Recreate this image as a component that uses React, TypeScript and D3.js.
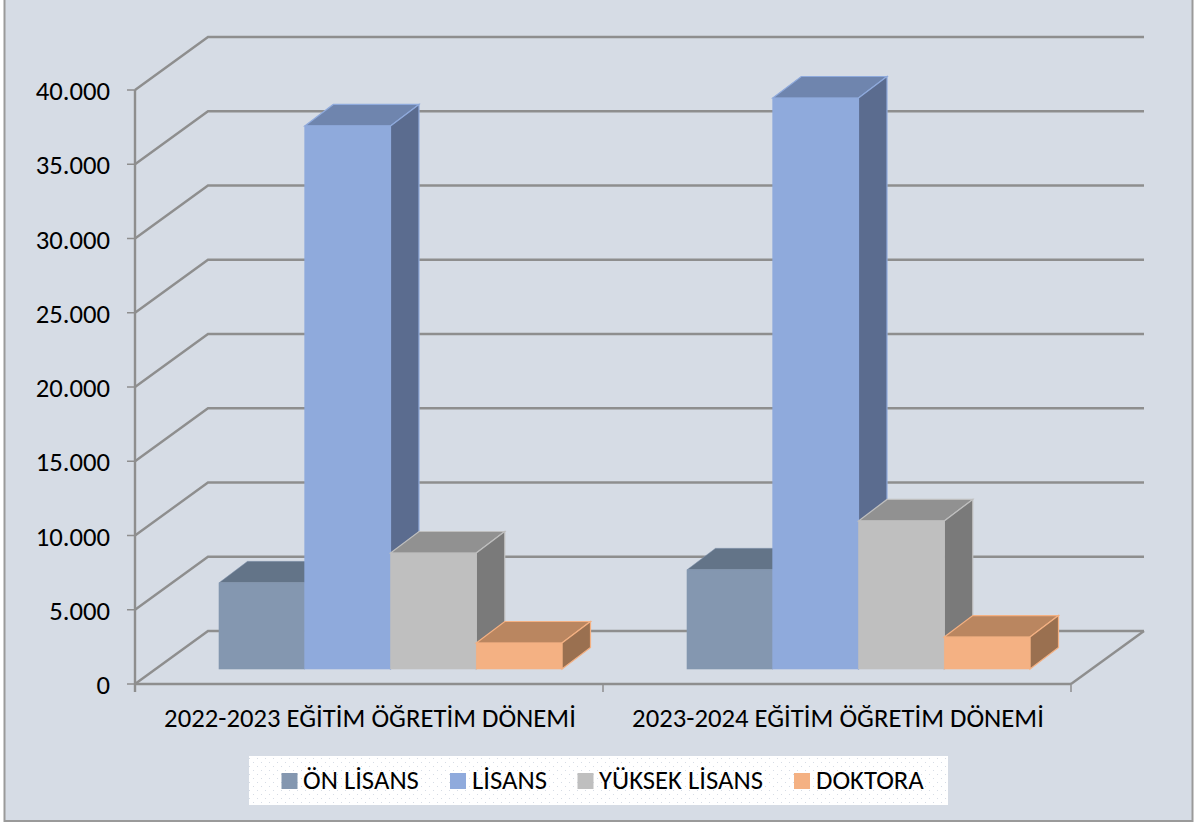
import React from "react";
import * as d3 from "d3";

const categories = ["2022-2023 EĞİTİM ÖĞRETİM DÖNEMİ", "2023-2024 EĞİTİM ÖĞRETİM DÖNEMİ"];
const seriesNames = ["ÖN LİSANS", "LİSANS", "YÜKSEK LİSANS", "DOKTORA"];
const onLisans = [5800, 6680];
const lisans = [36570, 38450];
const yuksekLisans = [7810, 9970];
const doktora = [1750, 2150];
const yTicks = [0, 5000, 10000, 15000, 20000, 25000, 30000, 35000, 40000];
const tickLabels = ["0", "5.000", "10.000", "15.000", "20.000", "25.000", "30.000", "35.000", "40.000"];

const fronts = ["#8497B0", "#8FAADC", "#BFBFBF", "#F4B183"];
const tops = ["#637488", "#6F85AE", "#919191", "#BA8660"];
const sides = ["#5A6B82", "#5B6C8F", "#7A7A7A", "#9A7050"];
const edges = ["#8497B0", "#8FAADC", "#BFBFBF", "#F4B183"];

const DX = 73, DY = 53;      // wall depth
const BX = 28.5, BY = 21.5;  // bar depth
const BASE = 669;            // bar base line

const y = d3.scaleLinear().domain([0, 40000]).range([684, 90]);
const x = d3.scaleBand<number>().domain([0, 1]).range([135, 1071]);
const barX = d3.scaleLinear().domain([0, 4]).range([84, 427]);

const FONT = "Carlito, Calibri, 'Open Sans', 'Noto Sans', sans-serif";
const GRID = "#8E8E8E";
const FS = 26.7;

function Bar({ x0, w, v, s }: { x0: number; w: number; v: number; s: number }) {
  const top = BASE - (y(0) - y(v));
  const poly = (p: number[][]) => p.map((q) => q.join(",")).join(" ");
  const sw = s === 0 ? 0.5 : 1.2;
  return (
    <g>
      <polygon points={poly([[x0, top], [x0 + BX, top - BY], [x0 + w + BX, top - BY], [x0 + w, top]])} fill={tops[s]} stroke={edges[s]} strokeWidth={sw} />
      <polygon points={poly([[x0 + w, top], [x0 + w + BX, top - BY], [x0 + w + BX, BASE - BY], [x0 + w, BASE]])} fill={sides[s]} stroke={edges[s]} strokeWidth={sw} />
      <rect x={x0} y={top} width={w} height={BASE - top} fill={fronts[s]} stroke={edges[s]} strokeWidth={0.6} />
    </g>
  );
}

export default function App() {
  const series = [onLisans, lisans, yuksekLisans, doktora];
  const legendX = [281.5, 450, 577.5, 794];
  const legendText = [303, 472, 599, 816];
  return (
    <svg width={1195} height={823} style={{ position: "fixed", left: 0, top: 0, display: "block", background: "#fff" }} fontFamily={FONT}>
      <defs>
        <pattern id="dots" width={8} height={8} patternUnits="userSpaceOnUse" x={248} y={756}>
          <rect width={8} height={8} fill="#fff" />
          <rect x={1} y={2} width={1} height={1} fill="#D6DCE5" />
          <rect x={5} y={6} width={1} height={1} fill="#D6DCE5" />
        </pattern>
      </defs>
      <rect x={4.5} y={-2} width={1188} height={823} fill="#D6DCE5" stroke="#9A9A9A" strokeWidth={2} />

      {/* walls and gridlines */}
      {yTicks.map((t) => (
        <polyline key={t} points={`${135},${y(t)} ${135 + DX},${y(t) - DY} ${135 + DX + 936},${y(t) - DY}`} fill="none" stroke={GRID} strokeWidth={2.4} />
      ))}
      <line x1={1071} y1={684} x2={1071 + DX} y2={684 - DY} stroke={GRID} strokeWidth={2.4} />

      {/* axes */}
      <line x1={135} y1={y(40000)} x2={135} y2={692} stroke={GRID} strokeWidth={2.4} />
      <line x1={135} y1={684} x2={1071} y2={684} stroke={GRID} strokeWidth={2.4} />
      {yTicks.map((t) => (
        <line key={t} x1={127} y1={y(t)} x2={135} y2={y(t)} stroke={GRID} strokeWidth={1.5} />
      ))}
      {[135, 603, 1071].map((p) => (
        <line key={p} x1={p} y1={684} x2={p} y2={692} stroke={GRID} strokeWidth={1.5} />
      ))}
      {yTicks.map((t, i) => (
        <text key={t} x={110} y={y(t) + 10} textAnchor="end" fontSize={FS} fill="#000">{tickLabels[i]}</text>
      ))}

      {/* bars */}
      {categories.map((c, i) => (
        <g key={c}>
          {series.map((vals, s) => {
            const x0 = (x(i) as number) + barX(s);
            const w = barX(s + 1) - barX(s);
            return <Bar key={s} x0={x0} w={w} v={vals[i]} s={s} />;
          })}
          <text x={(x(i) as number) + x.bandwidth() / 2 + 1} y={727} textAnchor="middle" fontSize={FS} fill="#000">{c}</text>
        </g>
      ))}

      {/* legend */}
      <rect x={249} y={756} width={699} height={49} fill="url(#dots)" />
      {seriesNames.map((n, s) => (
        <g key={n}>
          <rect x={legendX[s]} y={773} width={16} height={16} fill={fronts[s]} />
          <text x={legendText[s]} y={788.5} fontSize={FS} fill="#000">{n}</text>
        </g>
      ))}
    </svg>
  );
}
